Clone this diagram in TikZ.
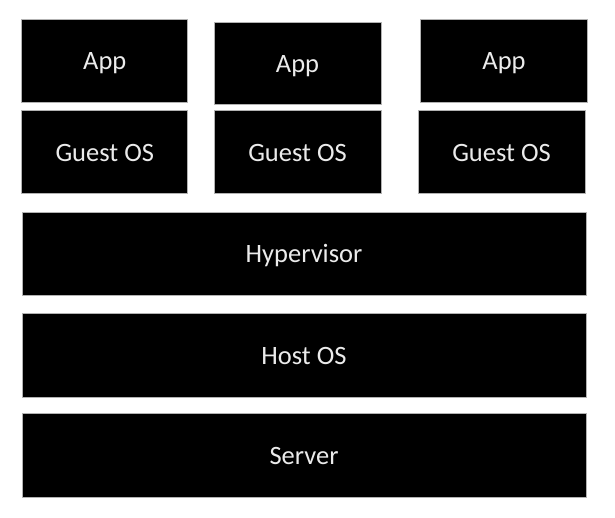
\documentclass[tikz,border=0pt]{standalone}
\usepackage{fontspec}
\setmainfont{Carlito}
\begin{document}
\begin{tikzpicture}[x=1pt,y=-1pt,
  layer/.style={rectangle,fill=black,draw=gray!60,line width=0.6pt,text=white!92!black,
    font=\fontsize{26.5}{30}\selectfont,inner sep=0pt,minimum height=83pt,
    text height=18pt,text depth=0pt}]
\useasboundingbox[fill=white] (0,0) rectangle (615,517);
\node[layer,minimum width=166pt] (app1) at (104.75,60.5) {App};
\node[layer,minimum width=167pt,minimum height=82pt] (app2) at (297.5,63) {App};
\node[layer,minimum width=167pt] (app3) at (504,60.5) {App};
\node[layer,minimum width=166pt] (guest1) at (104.75,152) {Guest OS};
\node[layer,minimum width=167pt] (guest2) at (297.5,152) {Guest OS};
\node[layer,minimum width=167pt] (guest3) at (501.5,152) {Guest OS};
\node[layer,minimum width=564pt] (hyper) at (304,253.5) {Hypervisor};
\node[layer,minimum width=564pt,minimum height=84pt] (host) at (304,355) {Host OS};
\node[layer,minimum width=564pt,minimum height=84pt] (server) at (304,455) {Server};
\end{tikzpicture}
\end{document}
